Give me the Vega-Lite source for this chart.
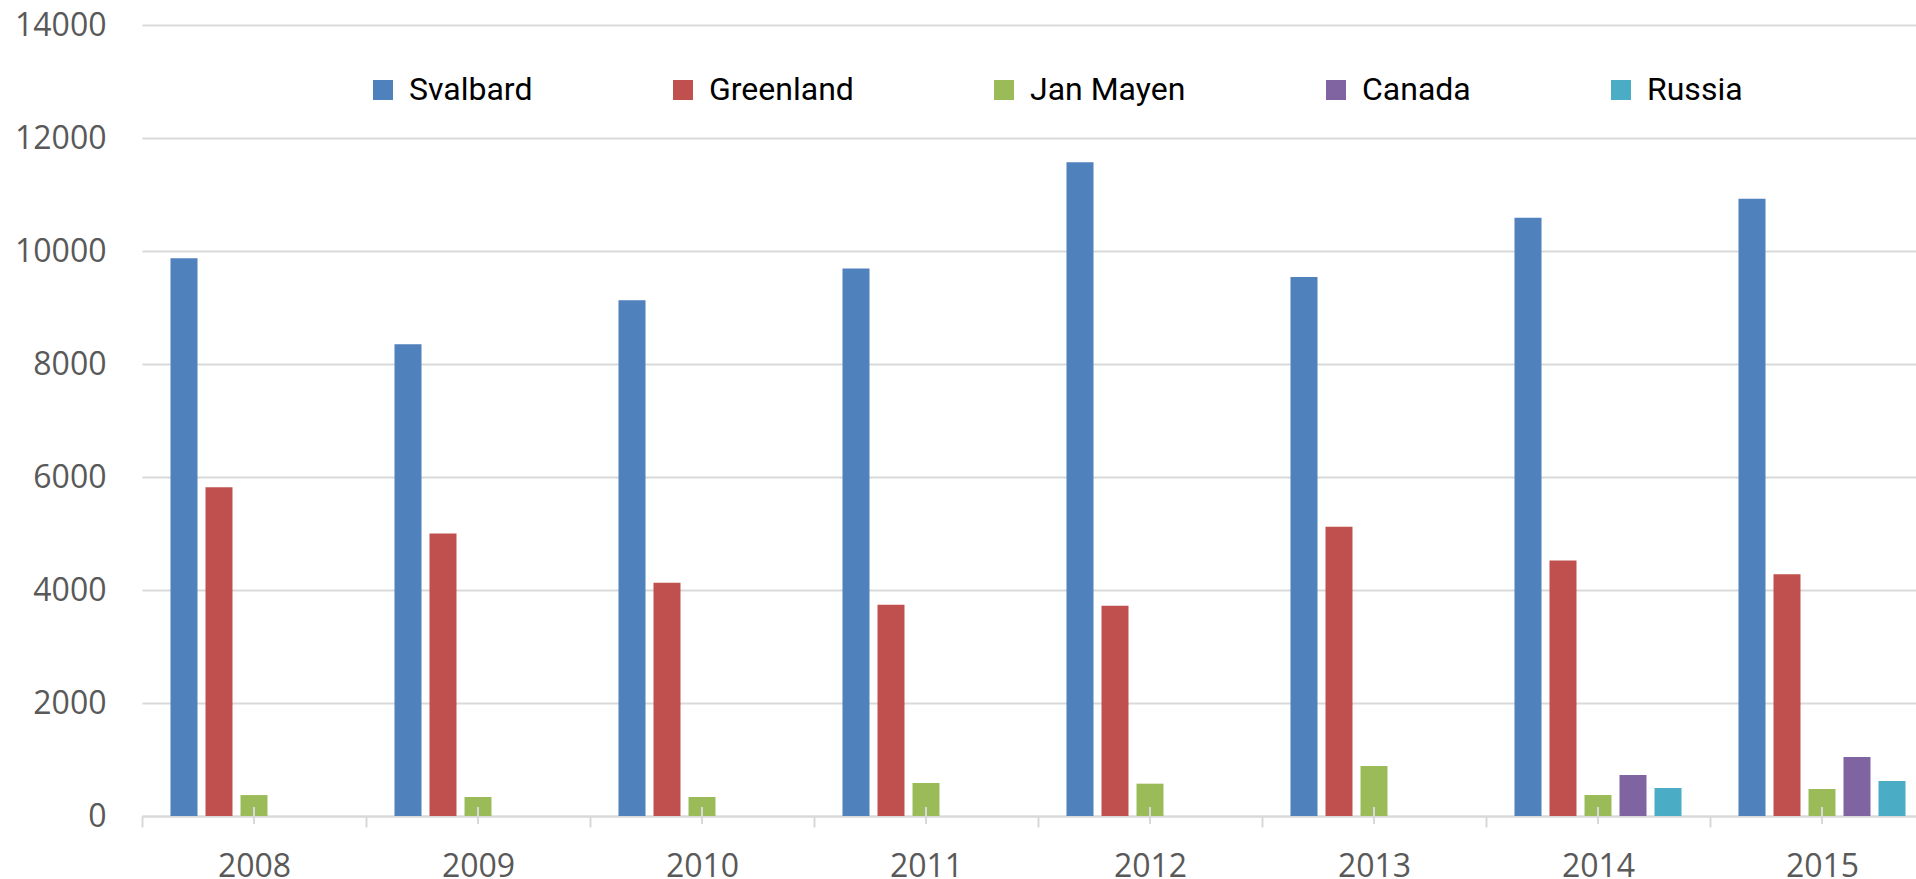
{
  "$schema": "https://vega.github.io/schema/vega-lite/v6.json",
  "width": 1774,
  "height": 791,
  "autosize": {"type": "none"},
  "padding": {"left": 142, "top": 25, "right": 0, "bottom": 63},
  "background": "white",
  "config": {"view": {"stroke": null}, "font": "Open Sans"},
  "data": {
    "values": [
      {"Year": "2008", "Region": "Svalbard", "Value": 9870},
      {"Year": "2008", "Region": "Greenland", "Value": 5820},
      {"Year": "2008", "Region": "Jan Mayen", "Value": 370},
      {"Year": "2009", "Region": "Svalbard", "Value": 8350},
      {"Year": "2009", "Region": "Greenland", "Value": 5000},
      {"Year": "2009", "Region": "Jan Mayen", "Value": 336},
      {"Year": "2010", "Region": "Svalbard", "Value": 9130},
      {"Year": "2010", "Region": "Greenland", "Value": 4130},
      {"Year": "2010", "Region": "Jan Mayen", "Value": 336},
      {"Year": "2011", "Region": "Svalbard", "Value": 9690},
      {"Year": "2011", "Region": "Greenland", "Value": 3740},
      {"Year": "2011", "Region": "Jan Mayen", "Value": 584},
      {"Year": "2012", "Region": "Svalbard", "Value": 11570},
      {"Year": "2012", "Region": "Greenland", "Value": 3720},
      {"Year": "2012", "Region": "Jan Mayen", "Value": 572},
      {"Year": "2013", "Region": "Svalbard", "Value": 9540},
      {"Year": "2013", "Region": "Greenland", "Value": 5120},
      {"Year": "2013", "Region": "Jan Mayen", "Value": 885},
      {"Year": "2014", "Region": "Svalbard", "Value": 10590},
      {"Year": "2014", "Region": "Greenland", "Value": 4520},
      {"Year": "2014", "Region": "Jan Mayen", "Value": 372},
      {"Year": "2014", "Region": "Canada", "Value": 726},
      {"Year": "2014", "Region": "Russia", "Value": 496},
      {"Year": "2015", "Region": "Svalbard", "Value": 10926},
      {"Year": "2015", "Region": "Greenland", "Value": 4280},
      {"Year": "2015", "Region": "Jan Mayen", "Value": 478},
      {"Year": "2015", "Region": "Canada", "Value": 1044},
      {"Year": "2015", "Region": "Russia", "Value": 620}
    ]
  },
  "layer": [
    {
      "mark": {"type": "bar"},
      "encoding": {
        "x": {
          "field": "Year",
          "type": "nominal",
          "scale": {"range": [0, 1792], "paddingInner": 0, "paddingOuter": 0},
          "axis": {
            "title": null,
            "labelAngle": 0,
            "labelFontSize": 32,
            "labelColor": "#595959",
            "domainColor": "#d9d9d9",
            "domainWidth": 2,
            "tickColor": "#d9d9d9",
            "tickWidth": 2,
            "tickSize": 11,
            "tickBand": "extent",
            "labelPadding": 24,
            "grid": false
          }
        },
        "xOffset": {
          "field": "Region",
          "type": "nominal",
          "scale": {
            "domain": ["Svalbard", "Greenland", "Jan Mayen", "Canada", "Russia"],
            "paddingInner": 0.2286,
            "paddingOuter": 0.814
          }
        },
        "y": {
          "field": "Value",
          "type": "quantitative",
          "scale": {"domain": [0, 14000]},
          "axis": {
            "title": null,
            "values": [0, 2000, 4000, 6000, 8000, 10000, 12000, 14000],
            "format": "d",
            "grid": true,
            "gridColor": "#d9d9d9",
            "gridWidth": 2,
            "domain": false,
            "ticks": false,
            "labelPadding": 36,
            "labelFontSize": 32,
            "labelColor": "#595959"
          }
        },
        "color": {
          "field": "Region",
          "type": "nominal",
          "scale": {
            "domain": ["Svalbard", "Greenland", "Jan Mayen", "Canada", "Russia"],
            "range": ["#4F81BD", "#C0504D", "#9BBB59", "#8064A2", "#4BACC6"]
          },
          "legend": {
            "title": null,
            "orient": "none",
            "legendX": 225,
            "legendY": 49,
            "direction": "horizontal",
            "symbolType": "square",
            "symbolSize": 400,
            "symbolStrokeWidth": 0,
            "labelFont": "Roboto",
            "labelFontSize": 32,
            "labelColor": "#000000",
            "labelOffset": 10,
            "columnPadding": 134,
            "padding": 0,
            "labelLimit": 0
          }
        }
      }
    },
    {
      "mark": {"type": "rule", "color": "#d9d9d9", "strokeWidth": 2},
      "encoding": {
        "x": {"field": "Year", "type": "nominal"},
        "y": {"datum": 160},
        "y2": {"datum": -140}
      }
    }
  ]
}
